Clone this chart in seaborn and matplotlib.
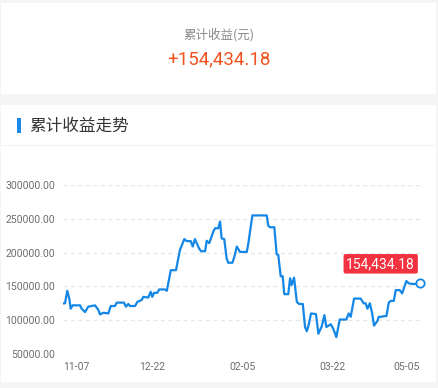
import matplotlib
matplotlib.use("Agg")
import matplotlib.pyplot as plt
import seaborn as sns
import pandas as pd
from matplotlib.patches import Rectangle

# ---------------- data ----------------
days = [0, 1.15, 2.3, 3.3, 4.0, 5.0, 8.7, 9.5, 11.2, 12.8, 16.2, 17.9, 18.7, 20.4, 22.9,
        24.1, 26.2, 27.1, 30.7, 31.7, 32.9, 33.8, 36.3, 37.4, 39.6, 40.4, 42.9, 44.1, 44.9,
        45.8, 47.4, 48.4, 51.3, 52.2, 54.2, 56.8, 58.8, 61.0, 62.2, 64.2, 65.2, 66.3, 68.4,
        69.4, 71.4, 72.2, 73.5, 75.5, 76.4, 78.0, 78.9, 79.7, 81.0, 82.2, 83.0, 85.1, 86.1,
        87.3, 88.9, 92.3, 93.1, 95.1, 102.3, 103.1, 104.0, 106.1, 107.3, 108.1, 109.3, 110.3,
        111.1, 113.1, 114.0, 114.8, 116.0, 117.4, 118.5, 120.4, 121.5, 122.4, 123.5, 124.5,
        127.0, 128.2, 129.9, 131.2, 132.2, 134.4, 135.6, 137.2, 138.9, 142.2, 143.4, 144.4,
        146.1, 149.4, 150.9, 151.9, 152.8, 154.0, 155.1, 156.1, 157.8, 158.5, 159.8, 161.0,
        162.3, 163.5, 164.5, 166.0, 167.0, 169.0, 170.2, 172.3, 173.5, 175.7, 176.5, 179.0]
values = [124800, 125000, 143500, 132000, 117000, 122000, 122000, 117000, 112000, 120000,
          122000, 115000, 108500, 111000, 110000, 121000, 121000, 126000, 126000, 120000,
          124000, 121000, 121000, 127000, 130000, 134500, 133500, 142000, 134500, 140500,
          140500, 145500, 145500, 143500, 174000, 174000, 204000, 220000, 217000, 217000,
          209000, 220000, 206000, 202000, 202000, 217500, 214000, 231000, 236000, 236000,
          246000, 221000, 220000, 191500, 185000, 185000, 194000, 209000, 201000, 201000,
          214000, 255000, 255000, 239500, 237500, 237500, 197500, 196500, 165000, 165000,
          138500, 138500, 162000, 152000, 163000, 127000, 124000, 124000, 90000, 83700,
          95000, 110000, 109000, 80000, 91000, 107500, 90000, 94000, 87700, 75000,
          101000, 101000, 110000, 105000, 132000, 132000, 125000, 125000, 117000, 125000,
          111000, 92000, 99000, 105000, 105000, 106000, 106000, 126000, 128600, 128600,
          144500, 144500, 139600, 158000, 154500, 153500, 153500, 154434.18]
tick_days = [0, 45, 90, 135, 179]
tick_labels = ["11-07", "12-22", "02-05", "03-22", "05-05"]
y_ticks = [50000, 100000, 150000, 200000, 250000, 300000]
total_label = "+154,434.18"
last_label = "154,434.18"

# ---------------- style ----------------
sns.set_theme(style="white")
plt.rcParams["font.family"] = ["Roboto", "Noto Sans CJK SC", "DejaVu Sans"]
CJK = ["Noto Sans CJK SC", "DejaVu Sans"]

W, H = 438, 388
fig = plt.figure(figsize=(W / 100, H / 100), dpi=100, facecolor="#f5f5f5")


def fx(x):
    return x / W


def fy(y):
    return 1 - y / H


def rect(x0, y0, x1, y1, color):
    fig.patches.append(Rectangle((fx(x0), fy(y1)), fx(x1) - fx(x0), fy(y0) - fy(y1),
                                 transform=fig.transFigure, facecolor=color,
                                 edgecolor="none", zorder=-5))


# cards
rect(1, 3, 436, 94, "white")
rect(1, 105, 436, 382, "white")
rect(1, 145, 436, 146.3, "#f2f2f2")
rect(16.5, 118.3, 20.7, 133, "#1a8ce8")

fig.text(fx(219), fy(35), "累计收益(元)", family=CJK, fontsize=9, color="#8a8a8a",
         ha="center", va="center")
fig.text(fx(219), fy(59), total_label, fontsize=13.5, color="#f0521f",
         ha="center", va="center")
fig.text(fx(29.5), fy(126), "累计收益走势", family=CJK, fontsize=12, color="#333333",
         ha="left", va="center")

# ---------------- chart ----------------
ax_l, ax_r, ax_t, ax_b = 62.7, 419.7, 185, 354
ax = fig.add_axes([fx(ax_l), fy(ax_b), fx(ax_r) - fx(ax_l), (ax_b - ax_t) / H])
ax.set_zorder(2)
ax.patch.set_visible(False)

df = pd.DataFrame({"day": days, "value": values})
line_color = "#1487e6"
sns.lineplot(data=df, x="day", y="value", ax=ax, color=line_color, linewidth=1.6,
             estimator=None, sort=False)
ax.plot(days[-1], values[-1], marker="o", markersize=6, markerfacecolor="white",
        markeredgecolor=line_color, markeredgewidth=1.3, zorder=5, clip_on=False)

ax.set_xlim(days[0], days[-1])
ax.set_ylim(50000, 300000)
ax.set_yticks(y_ticks)
ax.set_yticklabels([f"{v:.2f}" for v in y_ticks])
ax.set_xticks(tick_days)
ax.set_xticklabels(tick_labels)
xl = ax.get_xticklabels()
xl[0].set_ha("left")
xl[-1].set_ha("right")
ax.set_xlabel("")
ax.set_ylabel("")
ax.tick_params(axis="both", length=0, colors="#6e6e6e", labelsize=7.5)
ax.tick_params(axis="y", pad=5.5)
ax.tick_params(axis="x", pad=6)
for s in ax.spines.values():
    s.set_visible(False)
ax.grid(axis="y", color="#e6e6e6", linestyle=(0, (3, 3)), linewidth=0.9)
ax.grid(axis="x", visible=False)

ax.annotate(last_label, xy=(days[-1], values[-1]), xytext=(-39, 19.6),
            textcoords="offset pixels", ha="center", va="center", fontsize=10,
            color="white", zorder=6, annotation_clip=False,
            bbox=dict(boxstyle="round,pad=0.2,rounding_size=0.15", facecolor="#f2333f",
                      edgecolor="none"))

fig.savefig("out.png", dpi=100, facecolor=fig.get_facecolor())
